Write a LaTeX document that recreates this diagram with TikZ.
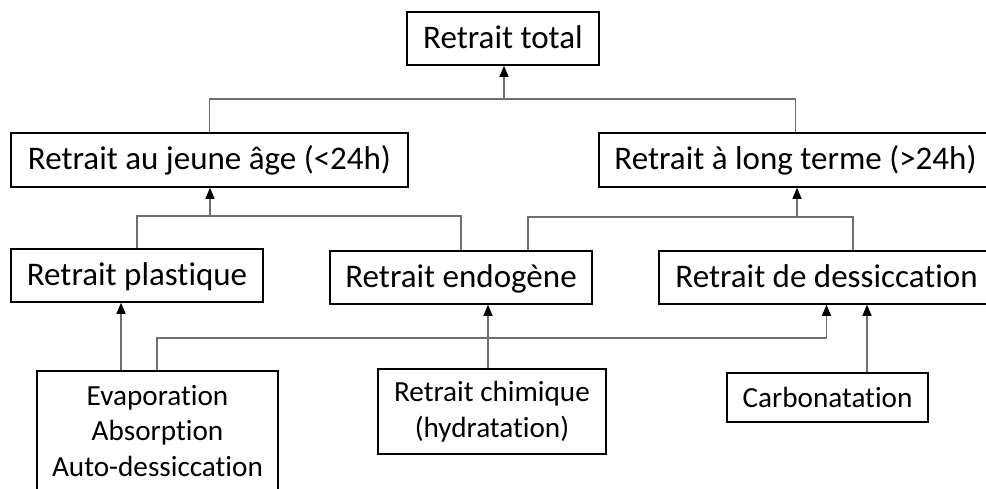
\documentclass[tikz,border=0pt]{standalone}
\usepackage{fontspec}
\setmainfont[Ligatures=NoCommon]{Carlito}
\usetikzlibrary{arrows.meta}
\definecolor{linegray}{RGB}{110,110,110}
\tikzset{
  bigbox/.style={draw=black, line width=1.6pt, inner sep=0pt, align=center,
    font=\fontsize{33}{39}\selectfont, text height=23pt, text depth=3pt},
  smallbox/.style={draw=black, line width=1.6pt, inner sep=0pt, align=center,
    font=\fontsize{29.2}{35.5}\selectfont},
  conn/.style={draw=linegray, line width=1.1pt},
  arr/.style={conn, -{Triangle[length=11pt,width=9pt,color=black,fill=black]}}
}
\begin{document}
\begin{tikzpicture}[x=1pt,y=-1pt]
\clip (0,0) rectangle (986,489);
\fill[white] (0,0) rectangle (986,489);
% boxes
\node[bigbox, minimum width=192pt, minimum height=53pt] (total) at (503,38.5) {Retrait total};
\node[bigbox, minimum width=397pt, minimum height=54pt] (jeune) at (209.5,160) {Retrait au jeune âge (<24h)};
\node[bigbox, minimum width=393pt, minimum height=54pt] (long) at (795.5,160) {Retrait à long terme (>24h)};
\node[bigbox, minimum width=252pt, minimum height=53pt] (plast) at (137,275.5) {Retrait plastique};
\node[bigbox, minimum width=262pt, minimum height=53pt] (endo) at (461,277.5) {Retrait endogène};
\node[bigbox, minimum width=335pt, minimum height=53pt] (dess) at (826.5,277.5) {Retrait de dessiccation};
\node[smallbox, minimum width=241pt, minimum height=120pt] (evap) at (157.5,431) {Evaporation\\Absorption\\Auto-dessiccation};
\node[smallbox, minimum width=228pt, minimum height=85pt] (chim) at (492,411.5) {Retrait chimique\\(hydratation)};
\node[smallbox, minimum width=201pt, minimum height=49pt] (carbo) at (827.5,397.5) {Carbonatation};
% junction points
\coordinate (j1) at (504,99);
\coordinate (j2) at (210,216);
\coordinate (j3l) at (528,217);
\coordinate (j3r) at (853,217);
\coordinate (j3) at (797,217);
\coordinate (k) at (157,338);
% top tree
\draw[conn] (jeune.north) |- (j1) -| (long.north);
\draw[arr] (j1) -- (j1 |- total.south);
% left tree
\draw[conn] (plast.north) |- (j2) -| (endo.north);
\draw[arr] (j2) -- (j2 |- jeune.south);
% right tree
\draw[conn] (j3l |- endo.north) -- (j3l) -- (j3r) -- (j3r |- dess.north);
\draw[arr] (j3) -- (j3 |- long.south);
% bottom arrows
\draw[arr] ([xshift=-36.5pt]evap.north) -- ([xshift=-36.5pt]evap.north |- plast.south);
\draw[arr] (k |- evap.north) -- (k) -| (dess.south);
\draw[arr] ([xshift=-4pt]chim.north) -- ([xshift=-4pt]chim.north |- endo.south);
\draw[arr] ([xshift=39.5pt]carbo.north) -- ([xshift=39.5pt]carbo.north |- dess.south);
\end{tikzpicture}
\end{document}
